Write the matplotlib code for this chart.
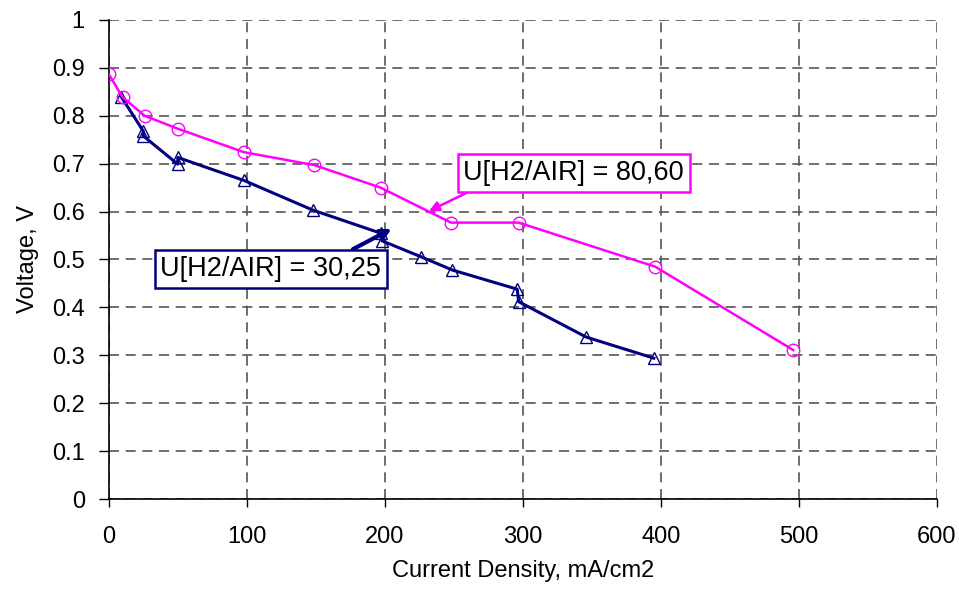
import matplotlib.pyplot as plt

plt.rcParams['font.family'] = ['Liberation Sans', 'DejaVu Sans']

# U[H2/AIR] = 80,60
x_8060 = [0, 10, 26, 50, 98, 149, 197, 248, 297, 396, 496]
v_8060 = [0.887, 0.839, 0.800, 0.773, 0.724, 0.697, 0.650, 0.577, 0.577, 0.485, 0.311]

# U[H2/AIR] = 30,25
x_3025 = [9, 25, 25, 50, 50, 98, 148, 197, 198, 226, 249, 296, 297, 346, 395]
v_3025 = [0.840, 0.768, 0.758, 0.699, 0.713, 0.665, 0.603, 0.555, 0.539,
          0.506, 0.478, 0.438, 0.412, 0.338, 0.294]

x_ticks = [0, 100, 200, 300, 400, 500, 600]
y_ticks = [0, 0.1, 0.2, 0.3, 0.4, 0.5, 0.6, 0.7, 0.8, 0.9, 1]
y_labels = ['0', '0.1', '0.2', '0.3', '0.4', '0.5', '0.6', '0.7', '0.8', '0.9', '1']

fig = plt.figure(figsize=(9.59, 5.93), dpi=100)
ax = fig.add_axes([0.1134, 0.1585, 0.8634, 0.8078])

magenta = '#FF00FF'
navy = '#000080'

ax.plot(x_8060, v_8060, color=magenta, lw=1.8, marker='o', ms=9,
        mfc='none', mec=magenta, mew=1.0, zorder=4)
ax.plot(x_3025, v_3025, color=navy, lw=2.2, marker='^', ms=8,
        mfc='none', mec=navy, mew=1.0, zorder=3)

ax.set_xlim(0, 600)
ax.set_ylim(0, 1)
ax.set_xticks(x_ticks)
ax.set_yticks(y_ticks)
ax.set_yticklabels(y_labels)
ax.tick_params(direction='out', width=1, labelsize=17)
ax.tick_params(axis='x', length=5.8, pad=13.7)
ax.tick_params(axis='y', length=7.2, pad=10)
ax.grid(True, color='#555555', linestyle=(0, (6, 4)), linewidth=1.2)
ax.set_axisbelow(True)

for side in ['top', 'right']:
    ax.spines[side].set_visible(False)
for side in ['left', 'bottom']:
    ax.spines[side].set_linewidth(1.2)

ax.set_xlabel('Current Density, mA/cm2', fontsize=17, labelpad=8.5)
ax.set_ylabel('Voltage, V', fontsize=17, labelpad=9.5)

ax.annotate('U[H2/AIR] = 80,60', xy=(232, 0.601), xytext=(337, 0.681),
            fontsize=19.5, ha='center', va='center',
            bbox=dict(boxstyle='square,pad=0.22', fc='white', ec=magenta, lw=1.8),
            arrowprops=dict(arrowstyle='-|>', color=magenta, lw=1.8,
                            mutation_scale=15, shrinkA=0, shrinkB=0,
                            relpos=(0.08, 0.0)),
            zorder=6)

ax.annotate('U[H2/AIR] = 30,25', xy=(205, 0.564), xytext=(117.5, 0.48),
            fontsize=19.5, ha='center', va='center',
            bbox=dict(boxstyle='square,pad=0.22', fc='white', ec=navy, lw=1.8),
            arrowprops=dict(arrowstyle='-|>', color=navy, lw=3,
                            mutation_scale=15, shrinkA=0, shrinkB=0,
                            relpos=(0.83, 1.08)),
            zorder=6)

fig.savefig('out.png', dpi=100)
